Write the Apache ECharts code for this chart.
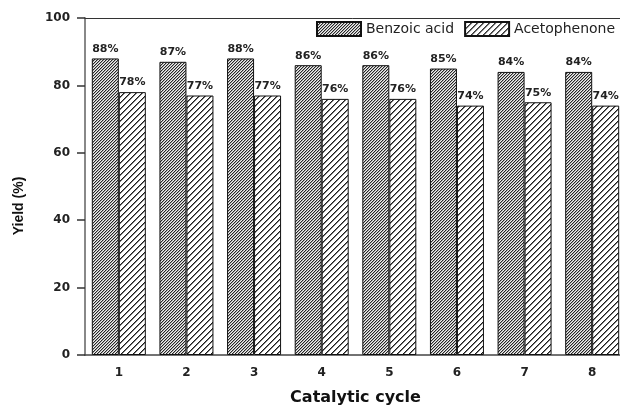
<!DOCTYPE html>
<html>
<head>
<meta charset="utf-8">
<script src="https://cdn.jsdelivr.net/npm/echarts@6/dist/echarts.min.js"></script>
<style>html,body{margin:0;padding:0;background:#fff}#c{width:620px;height:405px}</style>
</head>
<body>
<div id="c"></div>
<script>
const categories = ['1','2','3','4','5','6','7','8'];
const benzoicAcid = [88,87,88,86,86,85,84,84];
const acetophenone = [78,77,77,76,76,74,75,74];
const yTicks = [0,20,40,60,80,100];

function hatch(period, shades) {
  const c = document.createElement('canvas');
  c.width = period; c.height = period;
  const ctx = c.getContext('2d');
  for (let x = 0; x < period; x++) {
    for (let y = 0; y < period; y++) {
      const k = (x + y) % period;
      ctx.fillStyle = shades[k] || '#ffffff';
      ctx.fillRect(x, y, 1, 1);
    }
  }
  return c;
}
const densePat = hatch(3, ['#262626', '#a8a8a8', '#f0f0f0']);
const sparsePat = hatch(6, ['#1a1a1a', '#7a7a7a', '#ffffff', '#ffffff', '#ffffff', '#ffffff']);

const chart = echarts.init(document.getElementById('c'));
const labelStyle = {
  show: true, position: 'top', distance: 4,
  formatter: p => p.value + '%',
  fontFamily: 'DejaVu Sans', fontWeight: 'bold', fontSize: 11, color: '#222'
};
chart.setOption({
  animation: false,
  backgroundColor: '#fff',
  grid: { left: 85, top: 18, width: 541, bottom: 50, containLabel: false, outerBoundsMode: 'none' },
  legend: {
    left: 316, top: 21, padding: 0, itemWidth: 44, itemHeight: 14, itemGap: 10,
    icon: 'rect',
    textStyle: { fontFamily: 'DejaVu Sans', fontSize: 14, color: '#222' },
    data: ['Benzoic acid', 'Acetophenone']
  },
  xAxis: [{
    type: 'category', data: categories, position: 'bottom',
    name: 'Catalytic cycle', nameLocation: 'middle', nameGap: 35,
    nameTextStyle: { fontFamily: 'DejaVu Sans', fontWeight: 'bold', fontSize: 16, color: '#111' },
    axisLine: { lineStyle: { color: '#444', width: 1.5 } },
    axisTick: { alignWithLabel: true, length: 7, lineStyle: { color: '#222', width: 1.5 } },
    axisLabel: { margin: 12, fontFamily: 'DejaVu Sans', fontWeight: 'bold', fontSize: 12, color: '#222' }
  }, {
    type: 'category', data: categories, position: 'top',
    axisLine: { show: true, lineStyle: { color: '#333', width: 1 } },
    axisTick: { show: false }, axisLabel: { show: false }
  }],
  yAxis: {
    type: 'value', min: yTicks[0], max: yTicks[yTicks.length - 1], interval: 20,
    axisLine: { show: true, lineStyle: { color: '#888', width: 2 } },
    axisTick: { show: true, length: 8, lineStyle: { color: '#333', width: 1.5 } },
    axisLabel: { margin: 15, fontFamily: 'DejaVu Sans', fontWeight: 'bold', fontSize: 12, color: '#222' },
    splitLine: { show: false }
  },
  graphic: [{
    type: 'text', x: 19, y: 206, rotation: Math.PI / 2,
    style: { text: 'Yield (%)', fontFamily: 'Liberation Sans', fontWeight: 'bold', fontSize: 14,
      fill: '#111', align: 'center', verticalAlign: 'middle' }
  }],
  series: [{
    name: 'Benzoic acid', type: 'bar', data: benzoicAcid, barWidth: 27, barGap: '0%',
    itemStyle: { color: { image: densePat, repeat: 'repeat' }, borderColor: '#111', borderWidth: 1 },
    label: labelStyle
  }, {
    name: 'Acetophenone', type: 'bar', data: acetophenone, barWidth: 27, barGap: '0%',
    itemStyle: { color: { image: sparsePat, repeat: 'repeat' }, borderColor: '#111', borderWidth: 1 },
    label: labelStyle
  }]
});
</script>
</body>
</html>
